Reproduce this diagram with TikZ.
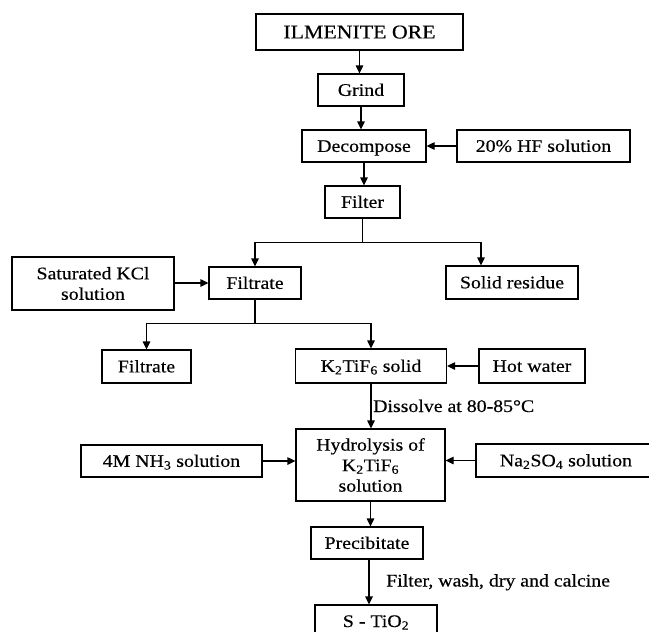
\documentclass[tikz,border=0pt]{standalone}
\usepackage{fontspec}
\setmainfont{Liberation Serif}[FakeStretch=1.12,FakeBold=0.4]
\usetikzlibrary{arrows.meta}
\begin{document}
\begin{tikzpicture}[x=1pt,y=-1pt,
  every node/.style={font=\fontsize{17.7}{20.5}\selectfont},
  box/.style={draw, line width=1.2pt, inner sep=0pt, align=center},
  one/.style={text height=11.7pt, text depth=0pt},
  conn/.style={line width=1.2pt},
  arr/.style={line width=1.2pt, -{Triangle[length=8pt,width=7.5pt]}}]
\useasboundingbox[fill=white] (0,0) rectangle (649,632);
% nodes
\node[box, minimum width=207, minimum height=36, font=\fontsize{19.5}{22}\selectfont, text height=12.9pt, text depth=0pt] (ore) at (359.5,32) {ILMENITE ORE};
\node[box, one, minimum width=86, minimum height=32] (grind) at (361,90) {Grind};
\node[box, one, minimum width=124, minimum height=32] (dec) at (364,146) {Decompose};
\node[box, one, minimum width=173, minimum height=32] (hf) at (543.5,146) {20\% HF solution};
\node[box, one, minimum width=75, minimum height=32] (filter) at (362.5,202) {Filter};
\node[box, minimum width=162, minimum height=53] (kcl) at (93,283.5) {Saturated KCl\\solution};
\node[box, one, minimum width=92, minimum height=32] (filtrate) at (255,283) {Filtrate};
\node[box, one, minimum width=132, minimum height=33] (solid) at (512,282.5) {Solid residue};
\node[box, one, minimum width=89, minimum height=33] (filtrate2) at (146.5,366.5) {Filtrate};
\node[box, one, minimum width=151, minimum height=34] (k2) at (371,366) {K\textsubscript{2}TiF\textsubscript{6} solid};
\node[box, one, minimum width=106, minimum height=34] (hot) at (532,366) {Hot water};
\node[box, minimum width=149, minimum height=72] (hyd) at (370.5,465) {Hydrolysis of\\K\textsubscript{2}TiF\textsubscript{6}\\solution};
\node[box, one, minimum width=181, minimum height=32] (nh3) at (171.5,461) {4M NH\textsubscript{3} solution};
\node[box, one, minimum width=180, minimum height=33] (na) at (566,460.5) {Na\textsubscript{2}SO\textsubscript{4} solution};
\node[box, one, minimum width=112, minimum height=32] (prec) at (367,543) {Precibitate};
\node[box, minimum width=122, minimum height=40, text height=4pt, text depth=0pt] (tio2) at (376,625) {S - TiO\textsubscript{2}};
% labels
\node[anchor=base west, inner sep=0pt] (lbl1) at (373,412) {Dissolve at 80-85°C};
\node[anchor=base west, inner sep=0pt] (lbl2) at (386,586.5) {Filter, wash, dry and calcine};
% connectors
\draw[arr] (ore.south) -- (ore.south |- grind.north);
\draw[arr] (grind.south) -- (grind.south |- dec.north);
\draw[arr] (dec.south) -- (dec.south |- filter.north);
\draw[arr] (hf.west) -- (dec.east);
\draw[conn] (filter.south) -- ++(0,24) coordinate (b1);
\draw[arr] (b1) -| (filtrate.north);
\draw[arr] (b1) -| ([xshift=-31pt]solid.north);
\draw[arr] (kcl.east |- filtrate.west) -- (filtrate.west);
\draw[conn] (filtrate.south) -- ++(0,24) coordinate (b2);
\draw[arr] (b2) -| (filtrate2.north);
\draw[arr] (b2) -| (k2.north);
\draw[arr] (hot.west) -- (k2.east);
\draw[arr] (k2.south) -- (k2.south |- hyd.north);
\draw[arr] (nh3.east) -- (nh3.east -| hyd.west);
\draw[arr] (na.west) -- (na.west -| hyd.east);
\draw[arr] (hyd.south) -- (hyd.south |- prec.north);
\draw[arr] ([xshift=2pt]prec.south) -- ([xshift=2pt]prec.south |- tio2.north);
\end{tikzpicture}
\end{document}
